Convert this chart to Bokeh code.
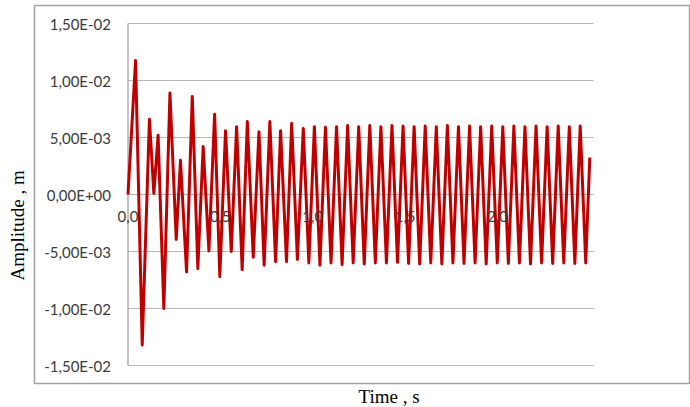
from bokeh.plotting import figure
from bokeh.models import Range1d, Title, ColumnDataSource
from bokeh.core.properties import value
from bokeh.embed import file_html
from bokeh.resources import INLINE

# ---- data (time in s, amplitude in m) ----
time_s = [0.000, 0.041, 0.077, 0.116, 0.140, 0.163, 0.194, 0.227, 0.261, 0.284,
          0.317, 0.348, 0.378, 0.407, 0.438, 0.469, 0.497, 0.528, 0.559, 0.588,
          0.618, 0.646, 0.678, 0.709, 0.737, 0.768, 0.799, 0.826, 0.858, 0.886,
          0.917, 0.949, 0.979, 1.009, 1.039, 1.069, 1.099, 1.129, 1.159, 1.189,
          1.219, 1.249, 1.279, 1.309, 1.339, 1.369, 1.399, 1.429, 1.459, 1.489,
          1.519, 1.549, 1.579, 1.609, 1.639, 1.669, 1.699, 1.729, 1.759, 1.789,
          1.819, 1.849, 1.879, 1.909, 1.939, 1.969, 1.999, 2.029, 2.059, 2.089,
          2.119, 2.149, 2.179, 2.209, 2.239, 2.269, 2.299, 2.329, 2.359, 2.389,
          2.419, 2.448, 2.478, 2.500]
amplitude_mm = [0.0, 11.75, -13.2, 6.6, 0.1, 5.2, -10.0, 8.9, -3.95, 3.0,
                -6.8, 8.6, -6.5, 4.2, -4.95, 7.05, -7.2, 5.6, -5.0, 5.95,
                -6.6, 6.4, -5.5, 5.5, -6.2, 6.4, -5.9, 5.6, -5.9, 6.25,
                -5.7, 5.8, -6.0, 5.95, -6.2, 5.9, -6.0, 5.95, -6.15, 6.05,
                -6.0, 5.95, -6.1, 6.05, -6.0, 5.95, -6.0, 6.05, -5.95, 6.0,
                -6.05, 5.95, -6.1, 6.0, -6.0, 5.95, -6.1, 6.05, -6.0, 5.95,
                -6.05, 6.0, -6.0, 5.95, -6.1, 6.0, -6.0, 5.95, -6.05, 6.0,
                -6.0, 5.95, -6.1, 6.0, -6.0, 5.95, -6.05, 6.0, -6.0, 5.95,
                -6.05, 6.0, -6.0, 3.25]
amplitude_m = [a * 1e-3 for a in amplitude_mm]

y_ticks = [-0.015, -0.010, -0.005, 0.0, 0.005, 0.010, 0.015]
y_tick_labels = ["-1,50E-02", "-1,00E-02", "-5,00E-03", "0,00E+00",
                 "5,00E-03", "1,00E-02", "1,50E-02"]
x_ticks = [0.0, 0.5, 1.0, 1.5, 2.0]
x_tick_labels = ["0,0", "0,5", "1,0", "1,5", "2,0"]
x_axis_max = 2.52

# ---- layout (page pixels) ----
W, H = 690, 407
FR_L, FR_R, FR_T, FR_B = 34, 690, 5, 383      # outer chart box = frame
PA_L, PA_R = 127.5, 593                       # plot area left/right
Y0_PX, PX_PER_UNIT_Y = 194, 11400.0

px_per_s = (PA_R - PA_L) / x_axis_max
xs = -(PA_L - FR_L) / px_per_s
xe = xs + (FR_R - FR_L) / px_per_s
ye = (Y0_PX - FR_T) / PX_PER_UNIT_Y
ys = -(FR_B - Y0_PX) / PX_PER_UNIT_Y

p = figure(width=W, height=H, output_backend="svg", toolbar_location=None,
           x_range=Range1d(xs, xe), y_range=Range1d(ys, ye),
           x_axis_type=None, y_axis_type=None, title=None,
           min_border_left=FR_L, min_border_right=W - FR_R,
           min_border_top=FR_T, min_border_bottom=H - FR_B)
p.outline_line_color = "#a3a3a3"
p.outline_line_width = 1.5
p.background_fill_color = "white"
p.border_fill_color = "white"

grid_col = "#b8b8b8"
p.segment(x0=[0.0] * len(y_ticks), x1=[x_axis_max] * len(y_ticks),
          y0=y_ticks, y1=y_ticks, line_color=grid_col, line_width=1.2)
p.segment(x0=[0.0], x1=[0.0], y0=[min(y_ticks)], y1=[max(y_ticks)],
          line_color="#9a9a9a", line_width=1.2)

src = ColumnDataSource(dict(t=time_s, a=amplitude_m))
p.line("t", "a", source=src, line_color="#c00000", line_width=3,
       line_join="round")

lab_font = value("Lato")
p.text(x=[0.0] * len(y_ticks), y=y_ticks, text=y_tick_labels,
       x_offset=-17, text_align="right", text_baseline="middle",
       text_font=lab_font, text_font_size="15px", text_color="#3a3a3a")
p.text(x=x_ticks, y=[0.0] * len(x_ticks), text=x_tick_labels,
       y_offset=22, text_align="center", text_baseline="middle",
       text_font=lab_font, text_font_size="15px", text_color="#3a3a3a")

t_left = Title(text="Amplitude , m", align="left", offset=103,
               vertical_align="top",
               text_font="Liberation Serif", text_font_size="19px",
               text_font_style="normal", text_color="black", standoff=10)
p.add_layout(t_left, "left")
t_below = Title(text="Time , s", align="left", offset=324,
                text_font="Liberation Serif", text_font_size="19px",
                text_font_style="normal", text_color="black", standoff=0)
p.add_layout(t_below, "below")

open("out.html", "w").write(file_html(p, INLINE))
